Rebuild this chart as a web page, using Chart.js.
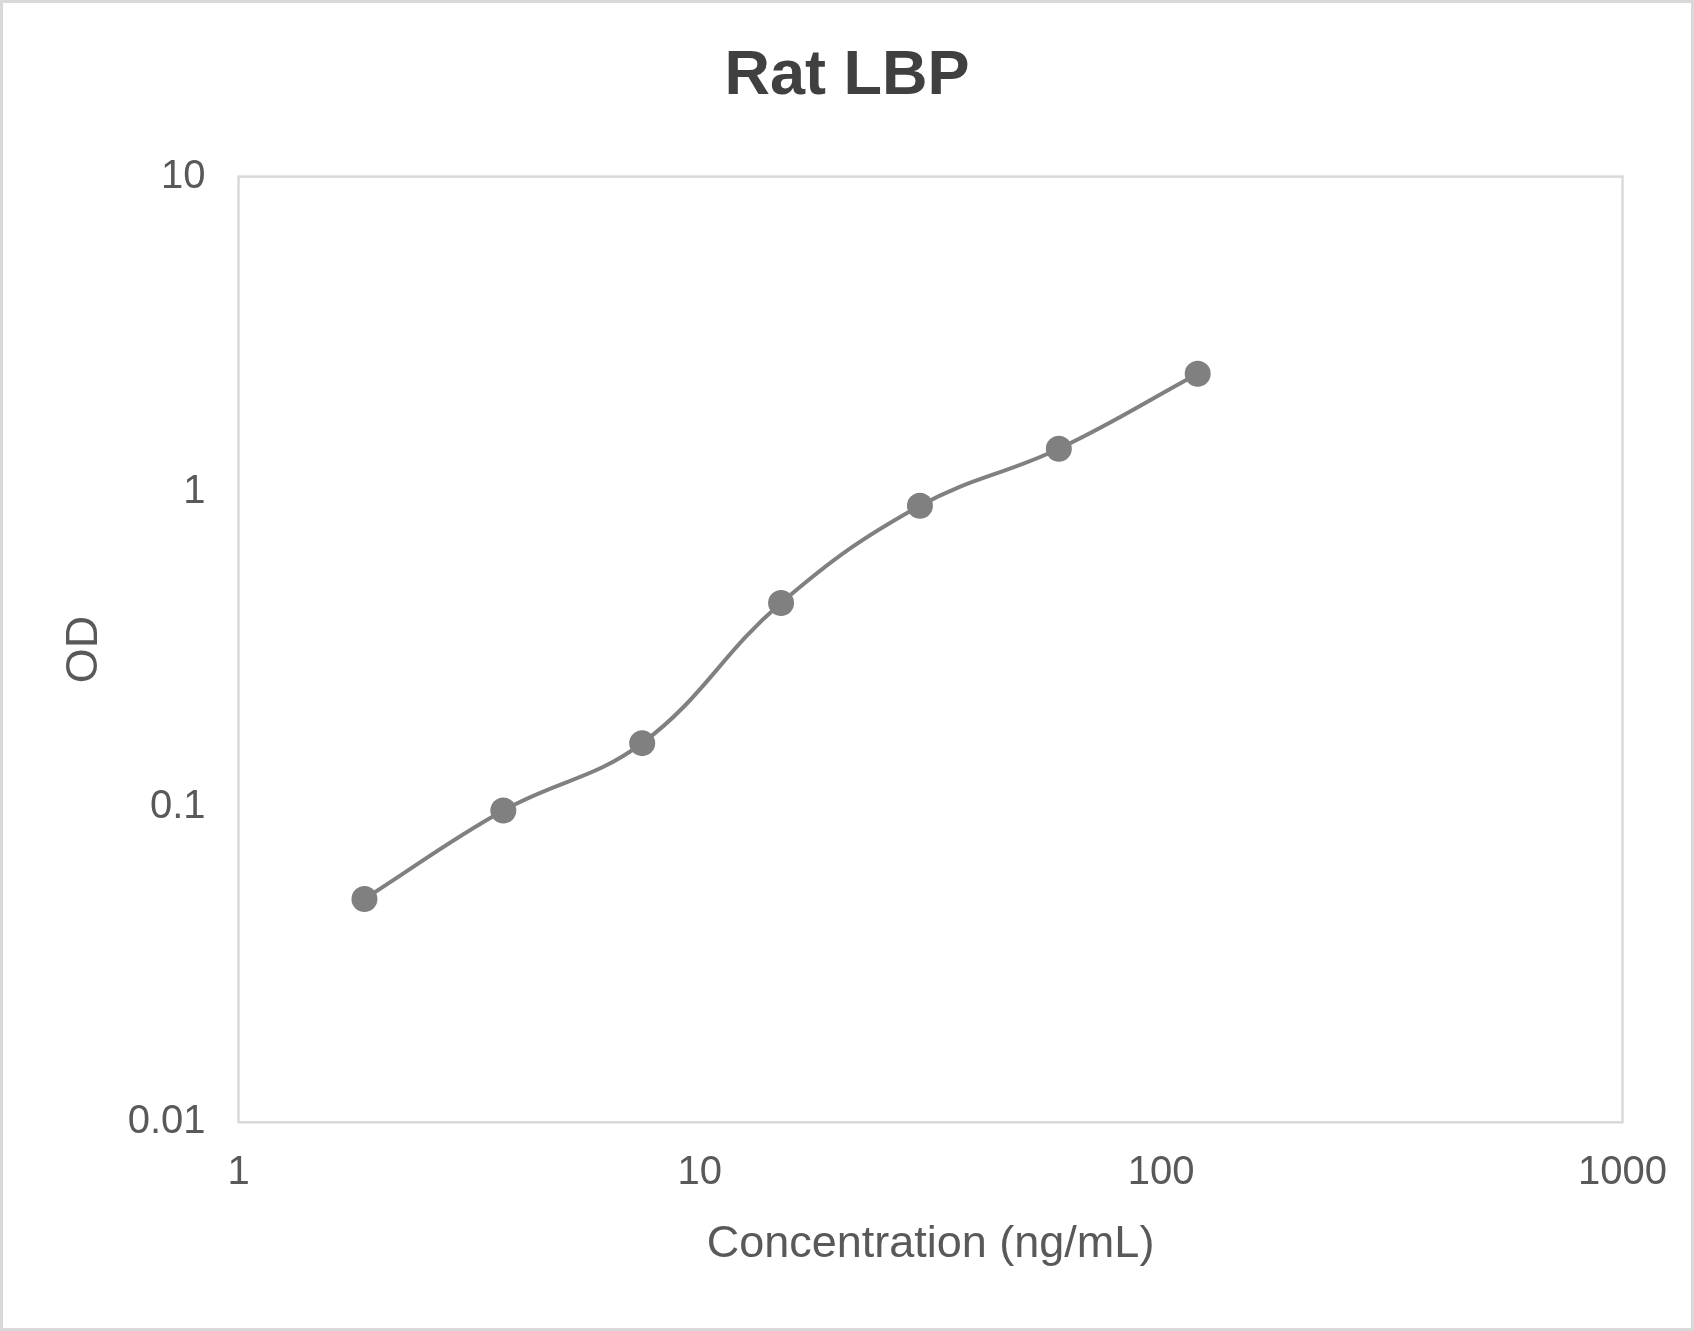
<!DOCTYPE html>
<html>
<head>
<meta charset="utf-8">
<script src="https://cdn.jsdelivr.net/npm/chart.js@4/dist/chart.umd.min.js"></script>
<style>
  html, body { margin: 0; padding: 0; background: #ffffff; }
  #wrap { width: 1694px; height: 1331px; }
</style>
</head>
<body>
<div id="wrap"><canvas id="c" width="1694" height="1331"></canvas></div>
<script>
// ---- data ----
const chartTitle = "Rat LBP";
const xAxisTitle = "Concentration (ng/mL)";
const yAxisTitle = "OD";
const concentrations = [1.875, 3.75, 7.5, 15, 30, 60, 120];
const odValues = [0.0511, 0.0975, 0.1595, 0.444, 0.903, 1.37, 2.37];
const xTickValues = [1, 10, 100, 1000];
const yTickValues = [0.01, 0.1, 1, 10];

const points = concentrations.map((x, i) => ({ x: x, y: odValues[i] }));

const FONT = "'Liberation Sans', Arial, 'DejaVu Sans', sans-serif";
const W = 1694, H = 1331;

const frame = {
  id: 'frame',
  beforeDraw(chart) {
    const ctx = chart.ctx;
    ctx.save();
    ctx.fillStyle = '#ffffff';
    ctx.fillRect(0, 0, chart.width, chart.height);
    ctx.strokeStyle = '#d9d9d9';
    ctx.lineWidth = 3;
    ctx.strokeRect(1.5, 1.5, chart.width - 3, chart.height - 3);
    const a = chart.chartArea;
    ctx.lineWidth = 2.5;
    ctx.strokeRect(a.left, a.top, a.right - a.left, a.bottom - a.top);
    ctx.restore();
  }
};

new Chart(document.getElementById('c'), {
  type: 'line',
  data: {
    datasets: [{
      label: chartTitle,
      data: points,
      borderColor: '#808080',
      backgroundColor: '#808080',
      borderWidth: 4,
      pointRadius: 13,
      pointHoverRadius: 13,
      pointBackgroundColor: '#808080',
      pointBorderColor: '#808080',
      pointBorderWidth: 0,
      tension: 0.4,
      fill: false
    }]
  },
  options: {
    responsive: false,
    animation: false,
    devicePixelRatio: 1,
    layout: { padding: 0 },
    plugins: {
      legend: { display: false },
      tooltip: { enabled: false },
      title: {
        display: true,
        text: chartTitle,
        color: '#404040',
        font: { family: FONT, size: 63, weight: 'bold', lineHeight: 1.2 },
        padding: { top: 39, bottom: 62 }
      }
    },
    scales: {
      x: {
        type: 'logarithmic',
        position: 'bottom',
        min: 1,
        max: 1000,
        afterBuildTicks(scale) { scale.ticks = xTickValues.map(v => ({ value: v })); },
        afterFit(scale) { scale.height = H - 1122.3; },
        grid: { display: false, drawTicks: false },
        border: { display: false },
        ticks: {
          color: '#595959',
          font: { family: FONT, size: 40 },
          padding: 27,
          maxRotation: 0,
          autoSkip: false,
          callback: (v) => String(v)
        },
        title: {
          display: true,
          text: xAxisTitle,
          color: '#595959',
          font: { family: FONT, size: 45, lineHeight: 1.2 },
          padding: { top: 0, bottom: 59 }
        }
      },
      y: {
        type: 'logarithmic',
        position: 'left',
        min: 0.01,
        max: 10,
        afterBuildTicks(scale) { scale.ticks = yTickValues.map(v => ({ value: v })); },
        afterFit(scale) { scale.width = 238.5; },
        grid: { display: false, drawTicks: false },
        border: { display: false },
        ticks: {
          color: '#595959',
          font: { family: FONT, size: 40 },
          padding: 33,
          autoSkip: false,
          callback: (v) => String(v)
        },
        title: {
          display: true,
          text: yAxisTitle,
          color: '#595959',
          font: { family: FONT, size: 45, lineHeight: 1.2 },
          padding: { top: 58, bottom: 0 }
        }
      },
      rightSpace: {
        type: 'linear',
        position: 'right',
        display: true,
        afterFit(scale) { scale.width = W - 1623; },
        grid: { display: false, drawTicks: false },
        border: { display: false },
        ticks: { display: false },
        title: { display: false }
      }
    }
  },
  plugins: [frame]
});
</script>
</body>
</html>
